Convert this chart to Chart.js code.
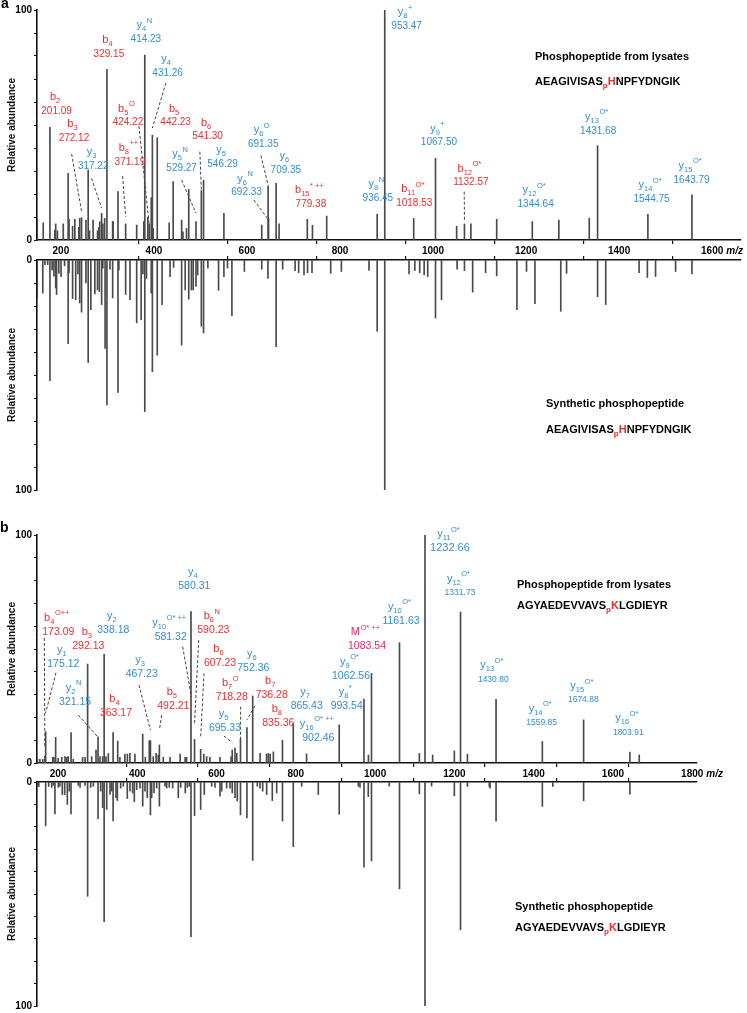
<!DOCTYPE html>
<html><head><meta charset="utf-8">
<script src="https://cdn.jsdelivr.net/npm/chart.js@4.4.1/dist/chart.umd.min.js"></script>
<style>
html,body{margin:0;padding:0;background:#fff;width:747px;height:1013px;overflow:hidden;position:relative;}
.cv{position:absolute;left:0;}
.t{position:absolute;font:bold 11px "Liberation Sans",Arial,Helvetica,sans-serif;color:#000;white-space:nowrap;line-height:12px;}
.r{color:#ee2c2c}
.r sub{font-size:8px;vertical-align:-3px;line-height:0}
.pl{position:absolute;font:bold 14px "Liberation Sans",Arial,sans-serif;line-height:14px;color:#000}
</style></head><body>
<canvas id="aTop" class="cv" width="747" height="262" style="top:0px"></canvas>
<canvas id="aBot" class="cv" width="747" height="248" style="top:250px"></canvas>
<canvas id="bTop" class="cv" width="747" height="265" style="top:520px"></canvas>
<canvas id="bBot" class="cv" width="747" height="242" style="top:772px"></canvas>

<div class="pl" style="left:1px;top:-4px">a</div>
<div class="pl" style="left:0px;top:520px">b</div>
<div class="t" style="left:535px;top:50px">Phosphopeptide from lysates</div>
<div class="t" style="left:535px;top:75px">AEAGIVISAS<span class="r"><sub>p</sub>H</span>NPFYDNGIK</div>
<div class="t" style="left:546px;top:397px">Synthetic phosphopeptide</div>
<div class="t" style="left:546px;top:423px">AEAGIVISAS<span class="r"><sub>p</sub>H</span>NPFYDNGIK</div>
<div class="t" style="left:517px;top:578px">Phosphopeptide from lysates</div>
<div class="t" style="left:517px;top:599px">AGYAEDEVVAVS<span class="r"><sub>p</sub>K</span>LGDIEYR</div>
<div class="t" style="left:515px;top:900px">Synthetic phosphopeptide</div>
<div class="t" style="left:515px;top:921px">AGYAEDEVVAVS<span class="r"><sub>p</sub>K</span>LGDIEYR</div>

<script>
// ---------- DATA: peaks [m/z, relative abundance] ----------
const peaksA_lysate = [[172.5,9],[186,7.5],[201.09,49],[212,4.3],[214,7],[218,4],[231,7],[242,29],[244,9],[252,6],[257,9],[266,5.5],[268,9.4],[272.12,9.7],[282,8.7],[287,30.4],[290,4],[298,8.7],[308,4],[311,5.5],[313,8],[317.22,11.6],[320,7],[324,9.4],[329.15,74.2],[342,8],[343,8],[354,21],[371.19,7],[396,6.5],[412,8],[414.23,80.4],[421,10],[424.22,7],[428.7,18.4],[431.26,45.6],[433,5],[442.23,44.5],[469,7.5],[478,25.4],[497,8.7],[500,3.5],[508,5],[513,22],[529.27,8],[541.3,21.4],[546.29,26],[592,11.6],[677,6.5],[691.35,23.5],[692.33,9],[709.35,24.6],[716,7],[779.38,9],[791,6.4],[823,10.4],[936.45,11.2],[953.47,100],[1018.53,9.4],[1067.5,35.5],[1115,6],[1132.57,7],[1147,7],[1205,9],[1285,8],[1344.64,8.7],[1413,9.5],[1431.68,41],[1544.75,11.2],[1643.79,19.6]];

const peaksA_synth = [[172.5,16.5],[185,14.4],[190,2],[196,2],[201.09,52.5],[206,4.3],[210,7],[214,12.2],[216,15],[221,5.8],[226,7.2],[234,2.5],[242,36.4],[244,5.5],[252,16.8],[259,17.3],[264,6],[268,18.7],[272.12,22.7],[282,10],[287,44.6],[293,21.6],[302,14.8],[308,13],[312,13.7],[317.22,19.4],[320,3.5],[325,38.4],[329.15,63],[336,4],[342,16.5],[354,57.6],[356,4.3],[371.19,15],[381,17.3],[396,27.3],[406,25.9],[410,6],[414.23,65.9],[418,8],[428.7,14.4],[431.26,48.6],[442.23,41.4],[453,19.4],[471,7.2],[479,3.2],[497,37],[505,13],[513,17],[519,13],[523,13],[529.27,11.5],[533,6.5],[541.3,28.8],[546.29,31.7],[556,3.5],[580,13.2],[592,7.2],[600,3.5],[610,24.2],[638,5],[677,4],[691,8],[709.35,37.7],[724,4],[752,4.6],[760,5.5],[772,6.5],[780,5.5],[790,5.5],[832,5.8],[856,5],[918,4.5],[936.45,31],[953.47,100],[1008,6],[1021,4.6],[1032,5.5],[1042,6.5],[1050,7.2],[1067.5,25.2],[1081,17.3],[1116,4],[1132.57,4.6],[1151,14],[1180,5.5],[1205,6.9],[1250.5,21.6],[1272,5],[1291,19],[1349,22.3],[1362,5.8],[1431.68,16],[1450,19.4],[1525,5.5],[1543.6,7.6],[1562,7.2],[1607,5],[1643.79,6]];

const peaksB_lysate = [[152,1.6],[159,1.6],[167,1.6],[173.09,3],[175.12,13.7],[195,2.5],[198,2.5],[203,11.3],[210,2],[220,2.5],[229,2.8],[234,2.5],[238,2.8],[246,13.3],[252,1.6],[278,2.5],[285,2.5],[292.13,43.4],[303.5,2.8],[315.5,5.7],[321.15,11.5],[326.6,2.8],[334,2.8],[338.18,47.7],[343.3,2.8],[349.8,4.2],[363.17,13.3],[376,9.6],[382,2.5],[396,3.9],[403,3.9],[410,4.2],[424,3.9],[445.7,12.7],[453,2.5],[464,9.8],[467.23,9.8],[475,2.8],[483,4.2],[489,3.5],[492.21,7.9],[503,2.5],[522,2.5],[550,3.9],[564,2.5],[568,2.5],[580.31,66.4],[590.23,10.4],[607.23,6],[616,3.9],[624,2.8],[633,2.5],[661,2.5],[692,2.8],[695.33,5.7],[703,6.5],[708,4.2],[718.28,10.5],[736.28,15.5],[752.36,29.4],[773,4.2],[791,3.9],[796,4.2],[801,3.9],[810,4.9],[835.36,10],[865.43,17.4],[902.46,4],[993.54,16.7],[1062.56,28],[1075,3.5],[1083.54,39.3],[1161.63,52.8],[1217,4.2],[1232.66,100],[1254,3.5],[1314.5,5.3],[1331.73,66.2],[1351,3.8],[1430.8,27.9],[1559.85,9.4],[1674.88,18.9],[1803.91,4.8],[1830,3.5]];

const peaksB_synth = [[152,2],[154,1.6],[156,2],[175.12,19.6],[183.6,2],[192,2.4],[196.5,1.5],[201,14.2],[210.4,2.4],[215,1.9],[221.5,5.6],[228.2,5.6],[235.5,10],[241,4.1],[245.8,14.2],[266,1.5],[271,2.4],[284.8,1.5],[292.13,51],[300.7,2.4],[308,1.9],[321.15,16.4],[328.6,4.1],[334.1,11.5],[338.18,62.4],[345.3,12.2],[354.5,5.6],[359.2,4.1],[363.17,17.4],[371.2,7],[375,8.3],[384.3,2.7],[391.6,1.9],[402.7,7.4],[410.3,4.1],[417.7,4.9],[422.3,8.8],[428.9,3.4],[438.1,2.7],[445.7,10.8],[452.1,4.1],[458.5,7],[467.23,14.7],[470.7,7],[477.2,4.9],[484.7,2.7],[492.21,10.8],[507.8,1.9],[512.5,2.7],[519.8,2.4],[529.3,2.7],[544.9,7],[551.6,2.4],[564.4,4.9],[570,2.4],[575.6,1.9],[580.31,69],[590.23,15],[607.23,12.3],[617.4,5.6],[638,1.9],[647.2,2.4],[661.2,6.3],[665.9,4.1],[679.8,2.7],[689,2.7],[695.33,4.9],[703,7],[709.4,8.5],[718.28,14.7],[736.28,16],[752.36,35],[765.2,1.9],[772.7,2.7],[780.2,4.1],[791.3,5.6],[807,8.3],[819.2,4.9],[835.36,17.4],[865.43,28.9],[888.9,1.9],[935.2,5.6],[993.54,14.4],[1046.8,1.9],[1051.4,2.4],[1062.56,38],[1074.6,6.5],[1083.54,35.2],[1133,1.8],[1161.63,47.7],[1217,5.3],[1232.66,100],[1251,1.8],[1314.5,6.2],[1331.73,66],[1351,2],[1412,2],[1414,2.8],[1430.8,17.5],[1559.85,10.9],[1589,2],[1674.88,8.4],[1803.91,5.4]];

// ---------- DATA: annotated ions (name "letter|sub|sup", m/z text) ----------
const ionsA_name = ['b|4|','y|4|N','y|4|','b|2|','b|3|','b|5|O','b|5|','b|6|','y|3|','b|8|++','y|5|N','y|5|','y|6|O','y|6|','y|6|N','b|15|* ++','y|8|N','y|8|+','y|9|+','b|11|O*','b|12|O*','y|12|O*','y|13|O*','y|14|O*','y|15|O*'];
const ionsA_mz = ['329.15','414.23','431.26','201.09','272.12','424.22','442.23','541.30','317.22','371.19','529.27','546.29','691.35','709.35','692.33','779.38','936.45','953.47','1067.50','1018.53','1132.57','1344.64','1431.68','1544.75','1643.79'];
const ionsB_name = ['y|4|','b|4|O++','y|2|','b|3|','y|1|','y|10|O* ++','b|6|N','b|6|','y|6|','y|3|','y|2|N','b|4|','b|5|','b|7|O','b|7|','y|5|','b|8|','y|7|','y|16|O* ++','y|8|*','y|9|O*','M||O* ++','y|10|O*','y|11|O*','y|12|O*','y|13|O*','y|14|O*','y|15|O*','y|16|O*'];
const ionsB_mz = ['580.31','173.09','338.18','292.13','175.12','581.32','590.23','607.23','752.36','467.23','321.15','363.17','492.21','718.28','736.28','695.33','835.36','865.43','902.46','993.54','1062.56','1083.54','1161.63','1232.66','1331.73','1430.80','1559.85','1674.88','1803.91'];

// ---------- AXIS TICKS ----------
const yTicks = [0,10,20,30,40,50,60,70,80,90,100];
const xTicksA = [400,600,800,1000,1200,1400,1600];
const xLabelsA = [200,400,600,800,1000,1200,1400,1600];
const xTicksB = [400,600,800,1000,1200,1400,1600,1800];
const xLabelsB = [200,400,600,800,1000,1200,1400,1600,1800];

// ---------- LAYOUT (label anchors in data units; leaders [startMz,startInt,endInt]) ----------
const ionsA_pos = [[333.6,80.7],[416.7,87.3],[465.5,72.7],[216,56.1],[255,44.2],[376.3,51],[483.5,51],[555.4,44.9],[298.3,32.2],[380.8,34],[497,31.2],[589,32.9],[680.3,41.6],[731.3,30.4],[643,20.6],[787.5,15.5],[938,18.1],[1002.6,93],[1075.2,42.3],[1019.7,16],[1147,24.9],[1292.5,15.5],[1433,47.4],[1553,17.7],[1643,26.1]];
const ionsA_lead = [null,null,[461.7,68.3,48.7],null,[249.8,37.4,12.6],[401,49.6,6.5],null,[538,38.4,21.7],[294.7,26.8,13.9],[364.4,27.8,10.1],[497,26.1,11.7],null,[675.2,36.7,23.9],null,[659.4,17.4,8.7],null,null,null,null,null,[1132,21,8.7],null,null,null,null];
const ionsB_pos = [[589.5,77.6],[210.4,57.6],[363.7,58.3],[294,51.3],[224.3,43.3],[523.7,55.4],[642.5,58.3],[661.2,43.7],[754,41.8],[442.9,39],[257,26.9],[371.2,22.1],[531,25],[693.8,28.8],[805.3,29.8],[675.1,15.5],[823.7,17.4],[902.9,25],[935.2,11.1],[1014.4,25],[1026.4,38.2],[1071,51.3],[1165.7,62.4],[1302.3,94.2,11],[1330.2,74.7,8.5],[1423,36.7,8.5],[1558,17.7,8.5],[1674,27.6,8.5],[1799.4,13.5,8.5]];
const ionsB_lead = [null,[171.3,54.8,7.1],null,null,[203.9,39.6,21.9],[557.2,51,29],[601.8,53.9,17.5],[616.6,39.3,11],null,[435.3,34.2,14.5],[266.1,21,11.3],null,[498.6,21,14.5],[718.9,24.7,10.1],[758.7,25.1,18.9],[672.3,11.8,8.9],null,null,null,null,null,null,null,null,null,null,null,null,null];

// ---------- STYLE ----------
const FONT = '"Liberation Sans", Arial, Helvetica, sans-serif';
const RED = '#ee2c2c', BLUE = '#328cd2', MAGENTA = '#ec2272', BAR = '#4a4a4a', AXIS = '#111';

function ionColor(n){ return n[0]==='b' ? RED : (n[0]==='y' ? BLUE : MAGENTA); }
function buildIons(names, mzs, pos, lead){
  return names.map((n,i)=>({name:n, label:mzs[i], mz:parseFloat(mzs[i]), pos:pos[i], lead:lead[i]}));
}

const ionPlugin = {
  id:'ionLabels',
  afterDatasetsDraw(chart, args, opts){
    const items = opts.items || [];
    if (!items.length) return;
    const xs = chart.scales.x, ys = chart.scales.y, ctx = chart.ctx;
    ctx.save();
    for (const it of items){
      const col = ionColor(it.name);
      if (it.lead){
        ctx.beginPath(); ctx.setLineDash([3,2]); ctx.lineWidth = 1; ctx.strokeStyle = '#444';
        ctx.moveTo(xs.getPixelForValue(it.lead[0]), ys.getPixelForValue(it.lead[1]));
        ctx.lineTo(xs.getPixelForValue(it.mz), ys.getPixelForValue(it.lead[2]));
        ctx.stroke(); ctx.setLineDash([]);
      }
      const cx = xs.getPixelForValue(it.pos[0]), cy = ys.getPixelForValue(it.pos[1]);
      const nsz = it.pos[2] || opts.numSize;
      ctx.fillStyle = col; ctx.textAlign='center'; ctx.textBaseline='middle';
      ctx.font = nsz + 'px ' + FONT;
      ctx.fillText(it.label, cx, cy);
      const parts = it.name.split('|');
      const base = parts[0], sub = parts[1], sup = parts[2];
      const fB = '11px ' + FONT, fS = '7.5px ' + FONT;
      ctx.textAlign='left'; ctx.textBaseline='alphabetic';
      ctx.font = fB; const wB = ctx.measureText(base).width;
      ctx.font = fS; const wS = sub ? ctx.measureText(sub).width : 0; const wP = sup ? ctx.measureText(sup).width + 0.5 : 0;
      let x = cx - (wB + wS + wP)/2 - 1.5;
      const by = cy - 11;
      ctx.font = fB; ctx.fillText(base, x, by); x += wB;
      ctx.font = fS;
      if (sub) ctx.fillText(sub, x, by + 3);
      if (sup) ctx.fillText(sup, x + wS + 0.5, by - 5.5);
    }
    ctx.restore();
  }
};

const mzPlugin = {
  id:'mzUnit',
  afterDraw(chart, args, opts){
    if (!opts.show) return;
    const s = chart.scales.xl; if (!s) return;
    const last = s.ticks[s.ticks.length-1];
    const x = s.getPixelForValue(last.value);
    const ctx = chart.ctx; ctx.save();
    ctx.font = 'bold 10px ' + FONT;
    const w = ctx.measureText(String(last.value)).width;
    ctx.font = 'italic bold 10px ' + FONT;
    ctx.fillStyle = '#000'; ctx.textAlign='left'; ctx.textBaseline='middle';
    ctx.fillText('m/z', x + w/2 + 3, s.top + 1 + 6);
    ctx.restore();
  }
};

function spectrum(id, peaks, c){
  const data = peaks.map(p=>({x:p[0], y:p[1]})).sort((a,b)=>a.x-b.x);
  const scales = {
    x: { type:'linear', position: c.mirror ? 'top' : 'bottom', min:c.xMin, max:c.xMax, offset:false, weight:0,
      afterBuildTicks: s => { s.ticks = c.xTicks.map(v=>({value:v})); },
      afterFit: s => { s.height = 4; },
      border:{display:true, color:AXIS, width:1.6},
      grid:{display:true, offset:false, drawOnChartArea:false, drawTicks:true, tickLength:4, color:AXIS, lineWidth:1.2},
      ticks:{display:false} },
    y: { type:'linear', position:'left', min:0, max:100, reverse:!!c.mirror,
      afterBuildTicks: s => { s.ticks = yTicks.map(v=>({value:v})); },
      afterFit: s => { s.width = 37; },
      border:{display:true, color:AXIS, width:1.6},
      grid:{display:true, drawOnChartArea:false, drawTicks:true, tickLength:3, color:AXIS, lineWidth:1},
      ticks:{autoSkip:false, padding:2, color:'#000', font:{family:FONT, size:10, weight:'bold'},
        callback: v => (v===0 || v===100) ? String(v) : ''},
      title:{display:true, text:'Relative abundance', color:'#111', font:{family:FONT, size:10, weight:'bold'}, padding:{top:6, bottom:0}} }
  };
  if (c.labels){
    scales.xl = { type:'linear', position:'bottom', min:c.lMin, max:c.lMax, offset:false, weight:1,
      afterBuildTicks: s => { s.ticks = c.labels.map(v=>({value:v})); },
      afterFit: s => { s.height = 18; },
      border:{display:false}, grid:{display:false, drawTicks:false, offset:false},
      ticks:{autoSkip:false, maxRotation:0, padding:1, color:'#000', font:{family:FONT, size:10, weight:'bold'},
        callback: v => String(v)} };
  }
  return new Chart(document.getElementById(id), {
    type:'bar',
    data:{datasets:[{data, backgroundColor:BAR, borderWidth:0, barThickness:1, grouped:false}]},
    options:{
      responsive:false, animation:false, events:[], devicePixelRatio:1,
      layout:{padding:c.padding},
      plugins:{legend:{display:false}, tooltip:{enabled:false},
        ionLabels:{items:c.ions || [], numSize:c.numSize || 10}, mzUnit:{show:!!c.labels}},
      scales
    },
    plugins:[ionPlugin, mzPlugin]
  });
}

spectrum('aTop', peaksA_lysate, {xMin:172, xMax:1754, xTicks:xTicksA, labels:xLabelsA, lMin:148.7, lMax:1662,
  padding:{top:10, right:6, bottom:0, left:0}, numSize:10,
  ions: buildIons(ionsA_name, ionsA_mz, ionsA_pos, ionsA_lead)});
spectrum('aBot', peaksA_synth, {mirror:true, xMin:172, xMax:1754, xTicks:xTicksA,
  padding:{top:6, right:6, bottom:6, left:0}});
spectrum('bTop', peaksB_lysate, {xMin:151, xMax:1991, xTicks:xTicksB, labels:xLabelsB, lMin:147.1, lMax:1812,
  padding:{top:15, right:50, bottom:0, left:0}, numSize:10.5,
  ions: buildIons(ionsB_name, ionsB_mz, ionsB_pos, ionsB_lead)});
spectrum('bBot', peaksB_synth, {mirror:true, xMin:151, xMax:1991, xTicks:xTicksB,
  padding:{top:6, right:50, bottom:6, left:0}});
</script>
</body></html>
